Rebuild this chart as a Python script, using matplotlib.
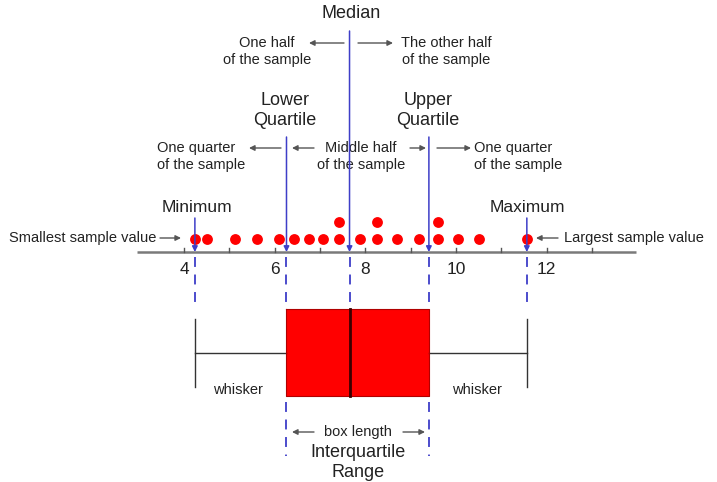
import numpy as np
import matplotlib
matplotlib.use("Agg")
import matplotlib.pyplot as plt

# ---------------- data ----------------
sample = [4.24, 4.50, 5.12, 5.60, 6.09, 6.43, 6.76, 7.07, 7.42, 7.42,
          7.88, 8.25, 8.25, 8.70, 9.19, 9.61, 9.61, 10.05, 10.51, 11.56]
tick_values = [4, 6, 8, 10, 12]
tick_labels = ["4", "6", "8", "10", "12"]
minor_ticks = [4, 5, 6, 7, 8, 9, 10, 11, 12, 13]
axis_range = [2.96, 13.97]

s = np.sort(np.array(sample))
n = len(s)
minimum, maximum = s[0], s[-1]
median = np.median(s)
q1 = np.median(s[: n // 2])
q3 = np.median(s[(n + 1) // 2:])

# ---------------- layout ----------------
W, H = 717, 482
PX_PER_UNIT = 45.35
X4_PX = 184.0
fig = plt.figure(figsize=(W / 100, H / 100), dpi=100)
ax = fig.add_axes([0, 0, 1, 1])
ax.set_xlim(4 - X4_PX / PX_PER_UNIT, 4 + (W - X4_PX) / PX_PER_UNIT)
ax.set_ylim(H, 0)
ax.axis("off")

def xv(px):
    return 4 + (px - X4_PX) / PX_PER_UNIT

FONT = "Liberation Sans"
TXT = "#222222"
GRAY = "#555555"
BLUE = "#3e3ec8"
RED = "#ff0000"

LINE_Y = 252
DOT_Y = 238.5
DOT_STEP = 16.7
BOX_TOP, BOX_BOT = 309, 396
WHISK_Y = 352.7

# number line
ax.plot(axis_range, [LINE_Y, LINE_Y], color="#7a7a7a", lw=1.8, solid_capstyle="butt", zorder=2)
for t in minor_ticks:
    ax.plot([t, t], [LINE_Y - 4.5, LINE_Y], color="#555555", lw=1.0, zorder=2)
for t, lab in zip(tick_values, tick_labels):
    ax.text(t, 269, lab, ha="center", va="center", fontsize=12.5, family=FONT, color=TXT)

# dots (stacked for repeats)
vals, counts = np.unique(s, return_counts=True)
for v, c in zip(vals, counts):
    for k in range(c):
        ax.plot(v, DOT_Y - k * DOT_STEP, "o", color=RED, ms=7.8, mec="none", zorder=4)

# blue marker lines
def blue_line(v, top, dash_end, dash2=None):
    ax.annotate("", xy=(v, LINE_Y), xytext=(v, top),
                arrowprops=dict(arrowstyle="-|>", color=BLUE, lw=1.1,
                                mutation_scale=8, shrinkA=0, shrinkB=0), zorder=5)
    ax.plot([v, v], [LINE_Y + 5, dash_end], color=BLUE, lw=1.3,
            dashes=(5.5, 4.2), zorder=3)
    if dash2 is not None:
        ax.plot([v, v], dash2, color=BLUE, lw=1.3, dashes=(5.5, 4.2), zorder=3)

blue_line(median, 31, BOX_TOP)
blue_line(q1, 137, BOX_TOP, (BOX_BOT + 6, 456))
blue_line(q3, 137, BOX_TOP, (BOX_BOT + 6, 456))
blue_line(minimum, 218, 307)
blue_line(maximum, 218, 307)

# box and whiskers
ax.fill_between([q1, q3], BOX_BOT, BOX_TOP, color=RED, zorder=3, lw=0)
ax.plot([q1, q3, q3, q1, q1], [BOX_TOP, BOX_TOP, BOX_BOT, BOX_BOT, BOX_TOP],
        color="#b00000", lw=0.8, zorder=4)
ax.plot([median, median], [BOX_TOP, BOX_BOT], color="#3a0000", lw=2.0, zorder=5)
ax.plot([minimum, q1], [WHISK_Y, WHISK_Y], color="#333333", lw=1.0, zorder=3)
ax.plot([q3, maximum], [WHISK_Y, WHISK_Y], color="#333333", lw=1.0, zorder=3)
ax.plot([minimum, minimum], [319, 387], color="#333333", lw=1.0, zorder=3)
ax.plot([maximum, maximum], [319, 387], color="#333333", lw=1.0, zorder=3)

# gray arrows
def garrow(x_tail_px, x_tip_px, y):
    ax.annotate("", xy=(xv(x_tip_px), y), xytext=(xv(x_tail_px), y),
                arrowprops=dict(arrowstyle="-|>", color=GRAY, lw=1.0,
                                mutation_scale=8, shrinkA=0, shrinkB=0))

def txt(x_px, y, s_, size=10.5, ha="center", ma="center"):
    ax.text(xv(x_px), y, s_, ha=ha, va="center", fontsize=size, family=FONT,
            color=TXT, linespacing=1.22, multialignment=ma)

# top texts
txt(351, 14, "Median", 13)
txt(267, 51.5, "One half\nof the sample")
garrow(344, 309, 43)
garrow(358, 393, 43)
txt(446, 51.5, "The other half\nof the sample")

txt(285, 110.5, "Lower\nQuartile", 13)
txt(428, 110.5, "Upper\nQuartile", 13)

txt(201, 156.5, "One quarter\nof the sample", ma="left")
garrow(281, 249, 148)
garrow(314, 292, 148)
txt(361, 156.5, "Middle half\nof the sample")
garrow(410, 426, 148)
garrow(437, 471, 148)
txt(518, 156.5, "One quarter\nof the sample", ma="left")

txt(197, 207, "Minimum", 12.5)
txt(527, 207, "Maximum", 12.5)
txt(156, 238, "Smallest sample value", 10.5, ha="right")
garrow(160, 181, 238)
garrow(558, 536, 238)
txt(564, 238, "Largest sample value", 10.5, ha="left")

# bottom texts
txt(238, 390, "whisker")
txt(477, 390, "whisker")
txt(358, 432, "box length")
garrow(314, 292, 432)
garrow(403, 425, 432)
txt(358, 462.5, "Interquartile\nRange", 13)

fig.savefig("out.png", dpi=100, facecolor="white")
